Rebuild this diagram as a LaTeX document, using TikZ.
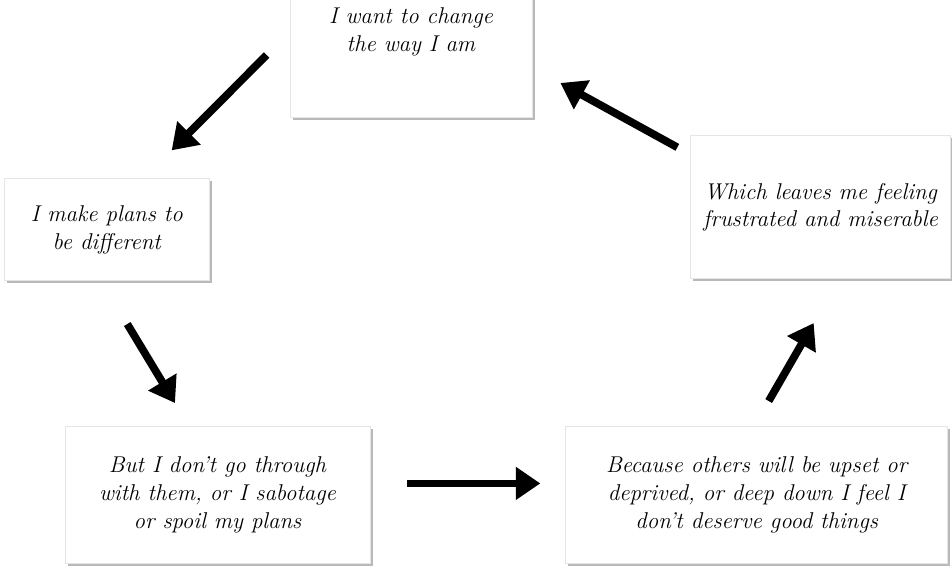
\documentclass[tikz,border=0pt]{standalone}
\usetikzlibrary{arrows.meta,positioning,shadows}

\begin{document}
\begin{tikzpicture}[
    box/.style={draw=gray!20, fill=white, align=center, inner sep=2pt,
      font=\fontsize{13}{15.8}\selectfont\itshape,
      drop shadow={shadow xshift=0.05cm, shadow yshift=-0.05cm, fill=gray!55, opacity=1}},
    arrow/.style={-{Triangle[length=14pt, width=18pt]}, line width=4.4pt, black}
  ]
    \useasboundingbox (0,0) rectangle (19.04,11.36);

    \node[box, minimum width=4.84cm, minimum height=3.4cm] (want) at (8.22,10.72) {I want to change\\the way I am};
    \node[box, minimum width=4.1cm, minimum height=2.04cm, below left=1.22cm and 1.6cm of want] (plans) {I make plans to\\be different};
    \node[box, minimum width=6.1cm, minimum height=2.74cm, below right=2.9cm and -2.9cm of plans] (spoil) {But I don't go through\\with them, or I sabotage\\or spoil my plans};
    \node[box, minimum width=7.64cm, minimum height=2.74cm, right=3.9cm of spoil] (deserve) {Because others will be upset or\\deprived, or deep down I feel I\\don't deserve good things};
    \node[box, minimum width=5.2cm, minimum height=2.86cm, above=2.94cm of deserve, xshift=1.28cm] (miserable) {Which leaves me feeling\\frustrated and miserable};

    \draw[arrow] ([shift={(-0.46,-0.46)}]want.west) -- ([shift={(-0.76,0.56)}]plans.north east);
    \draw[arrow] ([shift={(0.41,-0.86)}]plans.south) -- ([shift={(-0.85,0.46)}]spoil.north);
    \draw[arrow] ([shift={(0.74,0.23)}]spoil.east) -- ([shift={(-0.5,0.23)}]deserve.west);
    \draw[arrow] ([shift={(0.24,0.5)}]deserve.north) -- ([shift={(-0.14,-0.88)}]miserable.south);
    \draw[arrow] ([shift={(-0.26,-0.24)}]miserable.north west) -- ([shift={(0.56,-1.02)}]want.east);
  \end{tikzpicture}
\end{document}
